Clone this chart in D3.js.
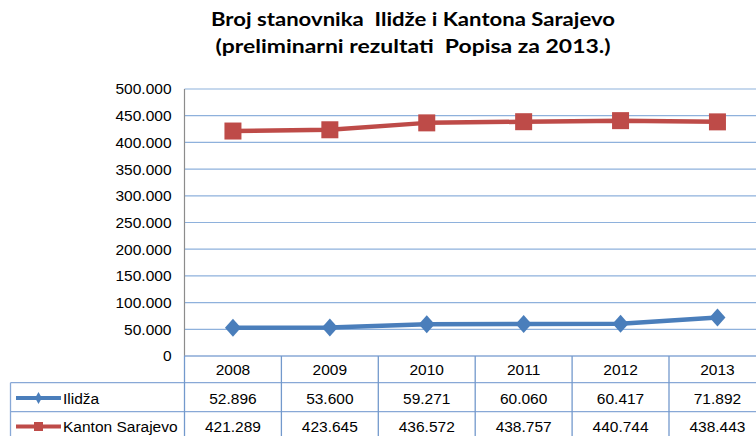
<!DOCTYPE html>
<html>
<head>
<meta charset="utf-8">
<script src="https://cdn.jsdelivr.net/npm/d3@7"></script>
<style>
  body { margin: 0; background: #fff; }
  svg { display: block; }
  .title { white-space: pre; }
</style>
</head>
<body>
<div id="chart"></div>
<script>
const years = ["2008", "2009", "2010", "2011", "2012", "2013"]
const ilidza = [52896, 53600, 59271, 60060, 60417, 71892]
const kanton = [421289, 423645, 436572, 438757, 440744, 438443]
const seriesNames = ["Ilidža", "Kanton Sarajevo"]
const yTicks = [0, 50000, 100000, 150000, 200000, 250000, 300000, 350000, 400000, 450000, 500000]
const titleLines = ["Broj stanovnika  Ilidže i Kantona Sarajevo", "(preliminarni rezultati  Popisa za 2013.)"]

const width = 756
const height = 436
const plotLeft = 184.5
const band = 96.9
const plotTop = 89
const plotBottom = 356

const loc = d3.formatLocale({ decimal: ",", thousands: ".", grouping: [3], currency: ["", ""] })
const fmt = loc.format(",d")

const svg = d3.select("#chart").append("svg").attr("width", width).attr("height", height)

const x = d3.scaleBand().domain(years).range([plotLeft, plotLeft + band * years.length])
const y = d3.scaleLinear().domain([0, 500000]).range([plotBottom, plotTop])

// title
svg.selectAll(".title").data(titleLines).enter().append("text")
    .attr("class", "title")
    .attr("x", 413).attr("y", (d, i) => i == 0 ? 25.7 : 53)
    .attr("text-anchor", "middle")
    .attr("font-family", "Lato, 'Liberation Sans', sans-serif")
    .attr("font-weight", "bold").attr("font-size", 18.5)
    .attr("textLength", (d, i) => i == 0 ? 404 : 395).attr("lengthAdjust", "spacingAndGlyphs")
    .attr("fill", "#000")
    .text(d => d)

// gridlines
svg.append("g").selectAll("line").data(yTicks.slice(1)).enter().append("line")
    .attr("x1", plotLeft).attr("x2", width).attr("y1", d => y(d)).attr("y2", d => y(d))
    .attr("stroke", "#8EB1DC").attr("stroke-width", 1.2)

// y axis
const yAxis = svg.append("g").attr("transform", `translate(${plotLeft},0)`)
    .call(d3.axisLeft(y).tickValues(yTicks).tickSize(0).tickPadding(13).tickFormat(fmt))
yAxis.select(".domain").remove()
yAxis.selectAll("text").attr("font-family", "'Liberation Sans', Arial, sans-serif").attr("font-size", 15.5).attr("fill", "#000")
svg.append("line").attr("x1", plotLeft).attr("x2", plotLeft).attr("y1", plotTop).attr("y2", plotBottom)
    .attr("stroke", "#8C8C8C").attr("stroke-width", 1.2)

// table
const row0 = plotBottom
const row1 = 382.7
const row2 = 411.7
const row3 = 441
const tableStroke = "#88A8D6"
const t = svg.append("g")
t.append("line").attr("x1", plotLeft).attr("x2", width).attr("y1", row0).attr("y2", row0).attr("stroke", tableStroke).attr("stroke-width", 1.3)
t.selectAll(".hl").data([row1, row2, row3]).enter().append("line")
    .attr("x1", 10.5).attr("x2", width).attr("y1", d => d).attr("y2", d => d)
    .attr("stroke", tableStroke).attr("stroke-width", 1.3)
t.selectAll(".vl").data(years).enter().append("line")
    .attr("x1", d => x(d)).attr("x2", d => x(d)).attr("y1", row0).attr("y2", row3)
    .attr("stroke", "#7399CC").attr("stroke-width", 1.3)
t.append("line").attr("x1", 10.5).attr("x2", 10.5).attr("y1", row1).attr("y2", row3).attr("stroke", tableStroke).attr("stroke-width", 1.3)

const cellFont = "'Liberation Sans', Arial, sans-serif"
t.selectAll(".yr").data(years).enter().append("text")
    .attr("x", d => x(d) + x.bandwidth() / 2).attr("y", 375)
    .attr("text-anchor", "middle").attr("font-family", cellFont).attr("font-size", 15.5)
    .text(d => d)

const rows = [
    { name: seriesNames[0], values: ilidza, color: "#4A7EBB", ty: 403.5, marker: "diamond" },
    { name: seriesNames[1], values: kanton, color: "#BE4B48", ty: 432, marker: "square" }
]

rows.forEach(r => {
    t.selectAll(null).data(r.values).enter().append("text")
        .attr("x", (d, i) => x(years[i]) + x.bandwidth() / 2).attr("y", r.ty)
        .attr("text-anchor", "middle").attr("font-family", cellFont).attr("font-size", 15.5)
        .text(d => fmt(d))
    t.append("text").attr("x", 63).attr("y", r.ty)
        .attr("font-family", cellFont).attr("font-size", 15.5).text(r.name)
    const ly = r.ty - 5.5
    t.append("line").attr("x1", 16).attr("x2", 61).attr("y1", ly).attr("y2", ly)
        .attr("stroke", r.color).attr("stroke-width", 4)
    if (r.marker == "diamond") {
        t.append("path").attr("d", d3.symbol(d3.symbolDiamond, 40)()).attr("transform", `translate(38.5,${ly})`).attr("fill", r.color)
    } else {
        t.append("rect").attr("x", 34).attr("y", ly - 4.5).attr("width", 9).attr("height", 9).attr("fill", r.color)
    }
})

// lines
const line = d3.line().x((d, i) => x(years[i]) + x.bandwidth() / 2).y(d => y(d))
rows.forEach(r => {
    svg.append("path").datum(r.values).attr("d", line)
        .attr("fill", "none").attr("stroke", r.color).attr("stroke-width", 4.5).attr("stroke-linejoin", "round")
})

// markers
svg.selectAll(".sq").data(kanton).enter().append("rect")
    .attr("x", (d, i) => x(years[i]) + x.bandwidth() / 2 - 8.5).attr("y", d => y(d) - 8.5)
    .attr("width", 17).attr("height", 17).attr("fill", rows[1].color)
svg.selectAll(".dm").data(ilidza).enter().append("path")
    .attr("d", "M0,-9 L8,0 L0,9 L-8,0 Z")
    .attr("transform", (d, i) => `translate(${x(years[i]) + x.bandwidth() / 2},${y(d)})`)
    .attr("fill", rows[0].color)
</script>
</body>
</html>
